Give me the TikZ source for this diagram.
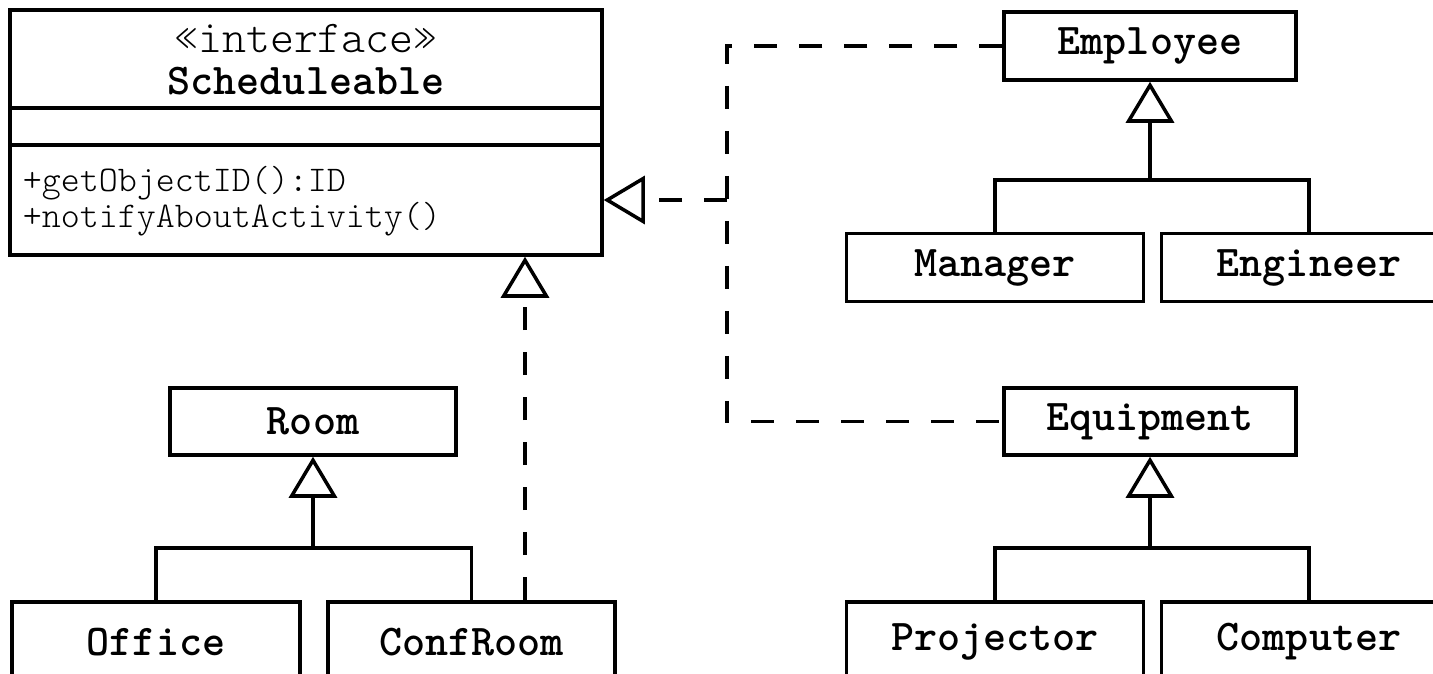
\documentclass[tikz,border=0pt]{standalone}
\usetikzlibrary{arrows.meta}
\begin{document}
\begin{tikzpicture}[
  line width=2pt,
  cls/.style={draw,minimum height=1.36cm,font=\ttfamily\bfseries\fontsize{25}{30}\selectfont},
  leaf/.style={cls,minimum height=1.6cm},
  thin/.style={inner sep=0pt,font=\ttfamily\fontseries{l}\fontsize{#1}{30}\selectfont},
  gen/.style={-{Triangle[open,length=0.82cm,width=0.96cm]}},
  real/.style={dash pattern=on 0.46cm off 0.44cm},
  ]
\useasboundingbox (0,0) rectangle (28.66,-13.48);
\clip (0,0) rectangle (28.66,-13.48);
% the interface, three compartments
\node[draw,minimum width=11.84cm,minimum height=4.9cm] (sched) at (6.12,-2.65) {};
\draw (sched.west |- 0,-2.16) -- (sched.east |- 0,-2.16);
\draw (sched.west |- 0,-2.9) -- (sched.east |- 0,-2.9);
\node[thin=26,align=center] (sname) at (6.12,-1.2)
  {«interface»\\[-0.22cm]{\bfseries\fontsize{25}{30}\selectfont Scheduleable}};
\node[thin=20.6,anchor=west] (op1) at (0.42,-3.66) {+getObjectID():ID};
\node[thin=20.6,anchor=west] (op2) at (0.42,-4.38) {+notifyAboutActivity()};
% employees
\node[cls,minimum width=5.84cm] (emp) at (23.0,-0.92) {Employee};
\node[cls,minimum width=5.94cm] (mgr) at (19.9,-5.35) {Manager};
\node[cls,minimum width=5.9cm] (eng) at (26.18,-5.35) {Engineer};
\coordinate (empbus) at (23.0,-3.6);
\draw (mgr.north) |- (empbus);
\draw (eng.north) |- (empbus);
\draw[gen] (empbus) -- (emp.south);
% rooms
\node[cls,minimum width=5.72cm,minimum height=1.34cm] (room) at (6.26,-8.43) {Room};
\node[leaf,minimum width=5.76cm] (office) at (3.12,-12.84) {Office};
\node[leaf,minimum width=5.74cm] (conf) at (9.43,-12.84) {ConfRoom};
\coordinate (roombus) at (6.26,-10.96);
\draw (office.north) |- (roombus);
\draw (conf.north) |- (roombus);
\draw[gen] (roombus) -- (room.south);
% equipment
\node[cls,minimum width=5.84cm,minimum height=1.34cm] (equip) at (23.0,-8.43) {Equipment};
\node[leaf,minimum width=5.94cm] (proj) at (19.9,-12.84) {Projector};
\node[leaf,minimum width=5.9cm] (comp) at (26.18,-12.84) {Computer};
\coordinate (equipbus) at (23.0,-10.96);
\draw (proj.north) |- (equipbus);
\draw (comp.north) |- (equipbus);
\draw[gen] (equipbus) -- (equip.south);
% realizations of the interface
\coordinate (fork) at (14.54,-4.0);
\coordinate (impl) at (10.5,0);
\draw[real] (emp.west) -| (fork) |- (equip.west);
\draw[real,gen] (fork) -- (fork -| sched.east);
\draw[real,gen] (conf.north -| impl) -- (sched.south -| impl);
\end{tikzpicture}
\end{document}
